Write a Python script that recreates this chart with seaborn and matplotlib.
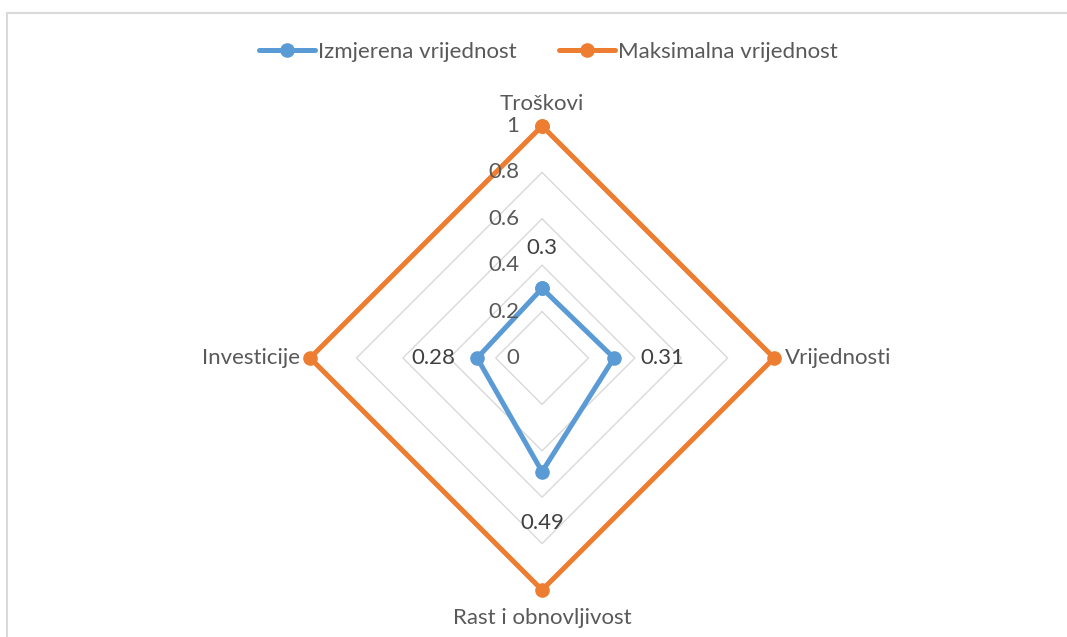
import numpy as np
import matplotlib
matplotlib.use("Agg")
import matplotlib.pyplot as plt
from matplotlib.lines import Line2D
import seaborn as sns

categories = ["Troškovi", "Vrijednosti", "Rast i obnovljivost", "Investicije"]
measured = [0.3, 0.31, 0.49, 0.28]
maximum = [1, 1, 1, 1]
series_names = ["Izmjerena vrijednost", "Maksimalna vrijednost"]
tick_values = [0, 0.2, 0.4, 0.6, 0.8, 1]
tick_labels = ["0", "0.2", "0.4", "0.6", "0.8", "1"]

sns.set_theme(style="white")
plt.rcParams["font.family"] = ["Lato", "DejaVu Sans"]

BLUE = "#5B9BD5"
ORANGE = "#ED7D31"
GRID = "#D9D9D9"
TEXT = "#595959"
FS = 16

fig = plt.figure(figsize=(10.67, 6.37), dpi=100)
ax = fig.add_axes([0.2906, 0.0738, 0.4349, 0.7284], projection="polar")
ax.set_theta_offset(np.pi / 2)
ax.set_theta_direction(-1)
ax.set_ylim(0, 1)
ax.grid(False)
ax.spines["polar"].set_visible(False)
ax.set_xticks([])
ax.set_yticks([])
ax.patch.set_alpha(0)

n = len(categories)
angles = [2 * np.pi * i / n for i in range(n)]
closed = angles + angles[:1]

# diamond gridlines
for lv in tick_values[1:]:
    ax.plot(closed, [lv] * (n + 1), color=GRID, lw=1.0, zorder=1, clip_on=False)

# series
ax.plot(closed, measured + measured[:1], color=BLUE, lw=3.6, marker="o",
        markersize=9.5, zorder=3, clip_on=False, label=series_names[0])
ax.plot(closed, maximum + maximum[:1], color=ORANGE, lw=3.6, marker="o",
        markersize=9.5, zorder=3, clip_on=False, label=series_names[1])

# radial tick labels
for v, lab in zip(tick_values, tick_labels):
    ax.annotate(lab, xy=(0, v), xytext=(-16.5, 0), textcoords="offset points",
                ha="right", va="center", fontsize=FS, color=TEXT)

# category labels
cat_offsets = [(0, 15.5, "center", "center"), (8, 0, "left", "center"),
               (0, -20.5, "center", "center"), (-7, 0, "right", "center")]
for a, lab, (dx, dy, ha, va) in zip(angles, categories, cat_offsets):
    ax.annotate(lab, xy=(a, 1), xytext=(dx, dy), textcoords="offset points",
                ha=ha, va=va, fontsize=FS, color=TEXT)

# data labels for measured series
lab_offsets = [(0, 29, "center", "center"), (19, 0, "left", "center"),
               (0, -37, "center", "center"), (-16, 0, "right", "center")]
for a, v, (dx, dy, ha, va) in zip(angles, measured, lab_offsets):
    ax.annotate(f"{v:g}", xy=(a, v), xytext=(dx, dy), textcoords="offset points",
                ha=ha, va=va, fontsize=FS, color="#404040")

# legend
fig.legend(handles=ax.get_lines()[-2:], labels=series_names, loc="center",
           bbox_to_anchor=(0.514, 0.918), ncol=2, frameon=False, fontsize=FS,
           handlelength=2.5, handletextpad=0.15, columnspacing=1.9,
           labelcolor=TEXT)

# chart-area border (top and left visible)
W, H = 1067, 637
fig.add_artist(Line2D([7 / W, 1], [1 - 13 / H, 1 - 13 / H], color=GRID, lw=1.5,
                      transform=fig.transFigure))
fig.add_artist(Line2D([7 / W, 7 / W], [1 - 13 / H, 0], color=GRID, lw=1.5,
                      transform=fig.transFigure))

fig.savefig("out.png", dpi=100, facecolor="white")
